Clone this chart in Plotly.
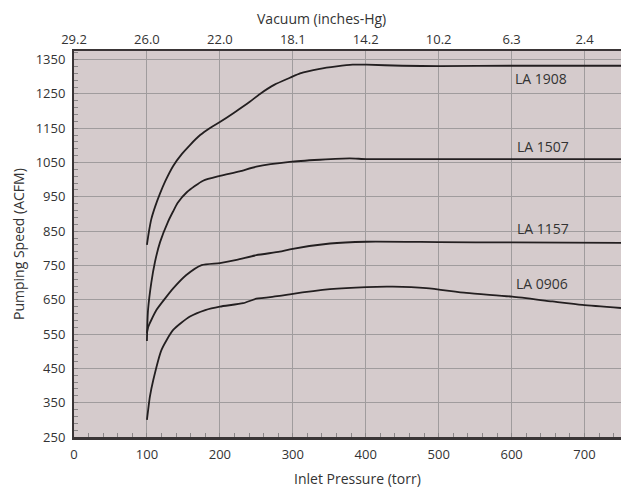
import plotly.graph_objects as go

# ---------------- data ----------------
p_1908 = [100, 103, 106, 111, 118, 125, 136, 148, 159, 173, 186, 200, 220, 241, 255, 275, 296, 310, 337, 360, 382, 401, 450, 501, 600, 750]
v_1908 = [810, 852, 885, 920, 960, 995, 1040, 1075, 1101, 1130, 1150, 1168, 1196, 1227, 1250, 1277, 1297, 1310, 1323, 1330, 1335, 1335, 1332, 1331, 1332, 1332]

p_1507 = [100, 100.5, 101.5, 106, 111, 118, 129, 136, 142, 155, 177, 200, 227, 250, 296, 337, 378, 401, 500, 750]
v_1507 = [530, 575, 620, 700, 760, 818, 878, 908, 932, 964, 997, 1011, 1024, 1038, 1052, 1058, 1062, 1060, 1060, 1060]

p_1157 = [100, 102, 106, 113, 125, 136, 154, 175, 200, 223, 250, 282, 296, 351, 401, 500, 600, 750]
v_1157 = [553, 572, 591, 620, 654, 683, 722, 751, 757, 766, 780, 790, 797, 814, 819, 818, 817, 816]

p_0906 = [100, 102, 104, 108.7, 120, 136, 159, 180, 200, 232, 250, 282, 296, 351, 401, 437, 483, 538, 601, 656, 697, 750]
v_0906 = [300, 335, 367, 416, 504, 562, 601, 620, 630, 640, 653, 661, 666, 681, 687, 688, 684, 670, 659, 645, 635, 626]

series = [
    ("LA 1908", p_1908, v_1908),
    ("LA 1507", p_1507, v_1507),
    ("LA 1157", p_1157, v_1157),
    ("LA 0906", p_0906, v_0906),
]

# label anchors (left x in torr, y in ACFM)
label_x = [602, 604, 605, 603]
label_y = [1294, 1096, 859, 696]

x_ticks = [0, 100, 200, 300, 400, 500, 600, 700]
vac_labels = ["29.2", "26.0", "22.0", "18.1", "14.2", "10.2", "6.3", "2.4"]
y_ticks = [250, 350, 450, 550, 650, 750, 850, 950, 1050, 1150, 1250, 1350]

# ---------------- figure ----------------
FONT = "Open Sans"
TXT = "#333333"
fig = go.Figure()

for name, px, py in series:
    fig.add_trace(go.Scatter(
        x=px, y=py, mode="lines", name=name,
        line=dict(color="#231f20", width=1.8, shape="spline", smoothing=0.6),
        showlegend=False, hoverinfo="skip",
    ))

# dummy trace for top axis
fig.add_trace(go.Scatter(x=[0, 750], y=[None, None], xaxis="x2", yaxis="y",
                         mode="lines", showlegend=False, hoverinfo="skip"))

for (name, _, _), lx, ly in zip(series, label_x, label_y):
    fig.add_annotation(x=lx, y=ly, text=name, showarrow=False, xanchor="left",
                       yanchor="middle", font=dict(family=FONT, size=14, color=TXT))

fig.update_layout(
    width=621, height=489,
    margin=dict(l=74, r=0, t=51, b=52, autoexpand=False),
    paper_bgcolor="white",
    plot_bgcolor="#d5cbcc",
    font=dict(family=FONT, size=13, color=TXT),
    xaxis=dict(
        range=[0, 750], tickvals=x_ticks, showgrid=True, gridcolor="#a09c9d", gridwidth=1,
        showline=True, linecolor="#3a3536", linewidth=3, zeroline=False, automargin=False,
        ticks="inside", ticklen=4, tickcolor="#8a8687", ticklabelstandoff=3,
        minor=dict(ticks="inside", dtick=20, tick0=0, ticklen=4, tickcolor="#8a8687", showgrid=False),
        tickfont=dict(family=FONT, size=13, color=TXT),
    ),
    xaxis2=dict(
        range=[0, 750], overlaying="x", side="top", tickvals=x_ticks, ticktext=vac_labels,
        showgrid=False, showline=True, linecolor="#3a3536", linewidth=2, zeroline=False,
        automargin=False, ticks="", tickfont=dict(family=FONT, size=13, color=TXT),
    ),
    yaxis=dict(
        range=[250, 1375], tickvals=y_ticks, showgrid=True, gridcolor="#a09c9d", gridwidth=1,
        showline=True, linecolor="#3a3536", linewidth=2, zeroline=False, automargin=False,
        ticks="inside", ticklen=4, tickcolor="#8a8687", ticklabelstandoff=4,
        minor=dict(ticks="inside", dtick=20, tick0=250, ticklen=4, tickcolor="#8a8687", showgrid=False),
        tickfont=dict(family=FONT, size=13, color=TXT),
    ),
)

# axis titles as annotations (paper coords)
fig.add_annotation(x=(321 - 74) / 547, y=1, yref="paper", xref="paper", yshift=33,
                   xanchor="center", yanchor="middle",
                   text="Vacuum (inches-Hg)", showarrow=False,
                   font=dict(family=FONT, size=14, color=TXT))
fig.add_annotation(x=(358 - 74) / 547, y=0, yref="paper", xref="paper", yshift=-41,
                   xanchor="center", yanchor="middle",
                   text="Inlet Pressure (torr)", showarrow=False,
                   font=dict(family=FONT, size=14, color=TXT))
fig.add_annotation(x=0, y=0.5, yref="paper", xref="paper", xshift=-56,
                   xanchor="center", yanchor="middle",
                   text="Pumping Speed (ACFM)", showarrow=False, textangle=-90,
                   font=dict(family=FONT, size=14, color=TXT))

fig.write_html("out.html", config={"displayModeBar": False},
               post_script="document.body.style.margin='0';document.body.style.padding='0';")
